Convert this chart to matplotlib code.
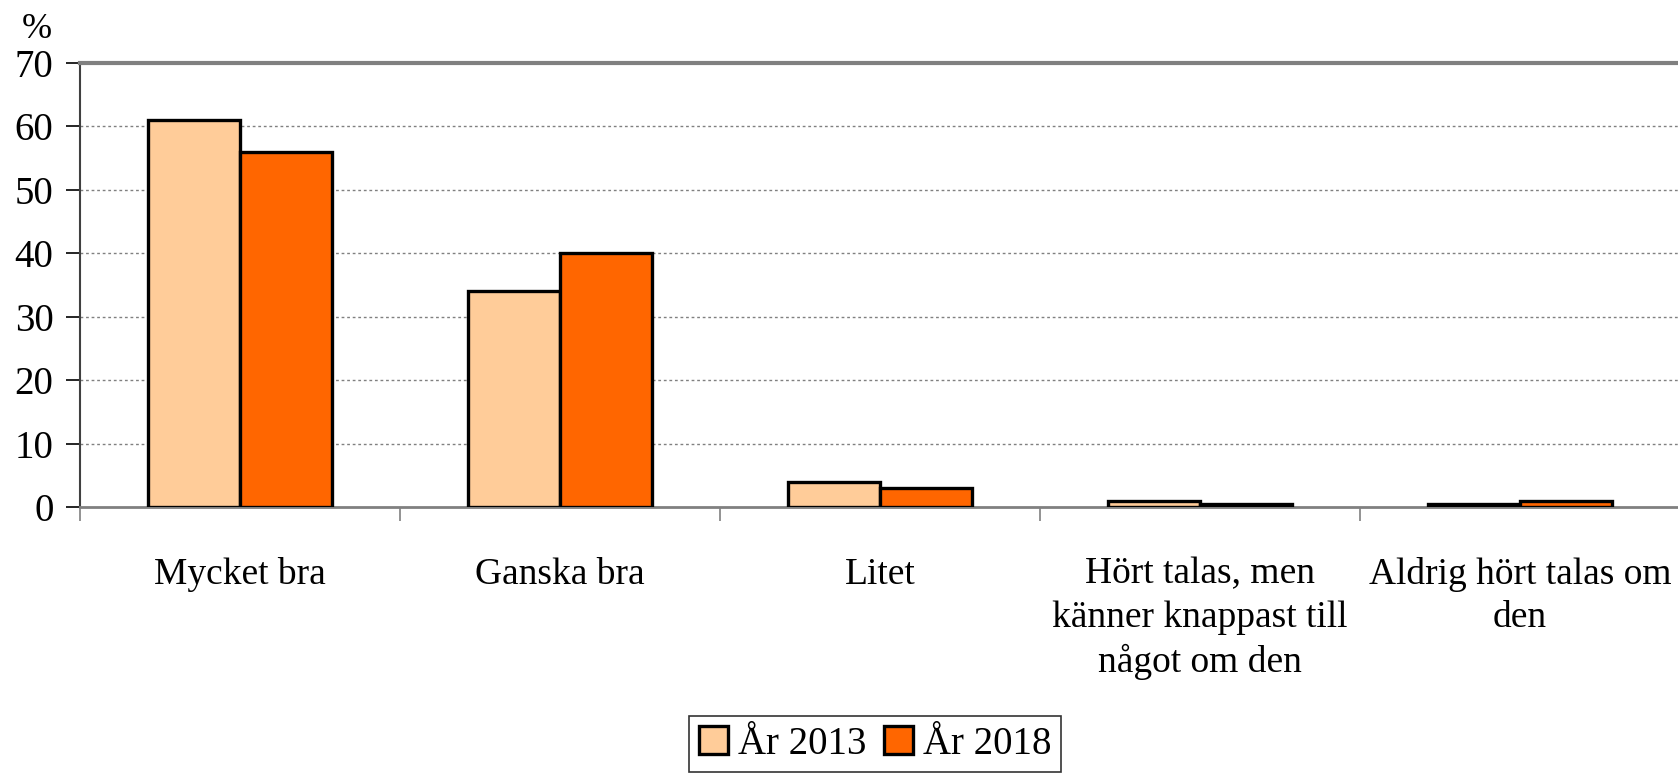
import numpy as np
import matplotlib.pyplot as plt

categories = ['Mycket bra', 'Ganska bra', 'Litet',
              'Hört talas, men\nkänner knappast till\nnågot om den',
              'Aldrig hört talas om\nden']
y2013 = [61, 34, 4, 1, 0.4]
y2018 = [56, 40, 3, 0.4, 1]
yticks = [0, 10, 20, 30, 40, 50, 60, 70]

plt.rcParams['font.family'] = ['Liberation Serif', 'DejaVu Serif']

fig = plt.figure(figsize=(16.78, 7.74), dpi=100)
ax = fig.add_axes([80 / 1678, 1 - 507 / 774, 1600 / 1678, (507 - 63) / 774])

x = np.arange(len(categories))
w = 0.288
ax.bar(x - w / 2, y2013, w, color='#ffcc99', edgecolor='black', linewidth=2.4,
       label='År 2013', zorder=3)
ax.bar(x + w / 2, y2018, w, color='#ff6600', edgecolor='black', linewidth=2.4,
       label='År 2018', zorder=3)

ax.set_xlim(-0.5, len(categories) - 0.5)
ax.set_ylim(0, 70)
ax.set_yticks(yticks)
ax.set_yticklabels([str(t) for t in yticks], fontsize=28)
for t in yticks[1:-1]:
    ax.axhline(t, color='#808080', linestyle=(0, (2, 2)), linewidth=1, zorder=1)

# category boundary ticks on x axis
ax.set_xticks(np.arange(-0.5, len(categories), 1.0))
ax.set_xticklabels([])
ax.set_xticks(x, minor=True)
ax.set_xticklabels(categories, minor=True, fontsize=27, linespacing=1.33)
ax.tick_params(axis='x', which='minor', length=0, pad=36)
ax.tick_params(axis='x', which='major', length=10, color='#808080', width=1.2)
ax.tick_params(axis='y', length=10, color='black', width=1.2, pad=9)

ax.spines['right'].set_visible(False)
ax.spines['top'].set_color('#808080')
ax.spines['top'].set_linewidth(3)
ax.spines['bottom'].set_color('#808080')
ax.spines['bottom'].set_linewidth(2)
ax.spines['left'].set_color('#404040')
ax.spines['left'].set_linewidth(1.5)

fig.text(37 / 1678, 1 - 30 / 774, '%', fontsize=26, ha='center', va='center')

leg = fig.legend(loc='lower center', bbox_to_anchor=(875 / 1678, -0.003), ncol=2,
                 fontsize=28, frameon=True, fancybox=False, edgecolor='black',
                 handlelength=0.75, handleheight=0.75, handletextpad=0.25,
                 columnspacing=0.45, borderpad=0.25, borderaxespad=0.1)
leg.get_frame().set_linewidth(1.2)

fig.savefig('out.png', dpi=100)
